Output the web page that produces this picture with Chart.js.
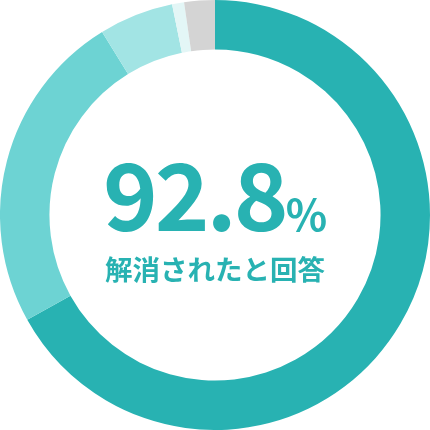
<!DOCTYPE html>
<html>
<head>
<meta charset="utf-8">
<script src="https://cdn.jsdelivr.net/npm/chart.js@4"></script>
<style>
html,body{margin:0;padding:0;background:#fff;}
#wrap{width:430px;height:430px;position:relative;}
</style>
</head>
<body>
<div id="wrap"><canvas id="c"></canvas></div>
<script>
const categories = ['解消された', '一部解消された', 'あまり解消されなかった', '解消されなかった', '無回答'];
const values = [66.9, 24.3, 5.6, 0.9, 2.3];
const colors = ['#28b2b2', '#6dd3d3', '#a2e4e4', '#e3f6f6', '#d4d4d4'];
const centerValue = '92.8';
const centerUnit = '%';
const centerLabel = '解消されたと回答';

const centerText = {
  id: 'centerText',
  afterDraw(chart) {
    const ctx = chart.ctx;
    const meta = chart.getDatasetMeta(0).data[0];
    const cx = meta.x, cy = meta.y;
    ctx.save();
    ctx.fillStyle = '#28b2b2';
    ctx.textBaseline = 'alphabetic';
    const bigFont = 'bold 93px "Noto Sans CJK JP", "Noto Sans", sans-serif';
    const smallFont = 'bold 43px "Noto Sans CJK JP", "Noto Sans", sans-serif';
    ctx.font = bigFont;
    ctx.letterSpacing = '-3px';
    const w1 = ctx.measureText(centerValue).width;
    ctx.letterSpacing = '0px';
    ctx.font = smallFont;
    const w2 = ctx.measureText(centerUnit).width;
    const startX = cx - (w1 + w2) / 2;
    ctx.textAlign = 'left';
    ctx.font = bigFont;
    ctx.letterSpacing = '-3px';
    ctx.fillText(centerValue, startX, cy + 16);
    ctx.letterSpacing = '0px';
    ctx.font = smallFont;
    ctx.fillText(centerUnit, startX + w1, cy + 16);
    ctx.font = 'bold 27.5px "Noto Sans CJK JP", sans-serif';
    ctx.textAlign = 'center';
    ctx.textBaseline = 'middle';
    ctx.fillText(centerLabel, cx, cy + 55);
    ctx.restore();
  }
};

new Chart(document.getElementById('c'), {
  type: 'doughnut',
  data: {
    labels: categories,
    datasets: [{
      data: values,
      backgroundColor: colors,
      borderWidth: 0
    }]
  },
  options: {
    responsive: true,
    maintainAspectRatio: false,
    animation: false,
    cutout: '77%',
    layout: { padding: 0 },
    plugins: { legend: { display: false }, tooltip: { enabled: false } }
  },
  plugins: [centerText]
});
</script>
</body>
</html>
